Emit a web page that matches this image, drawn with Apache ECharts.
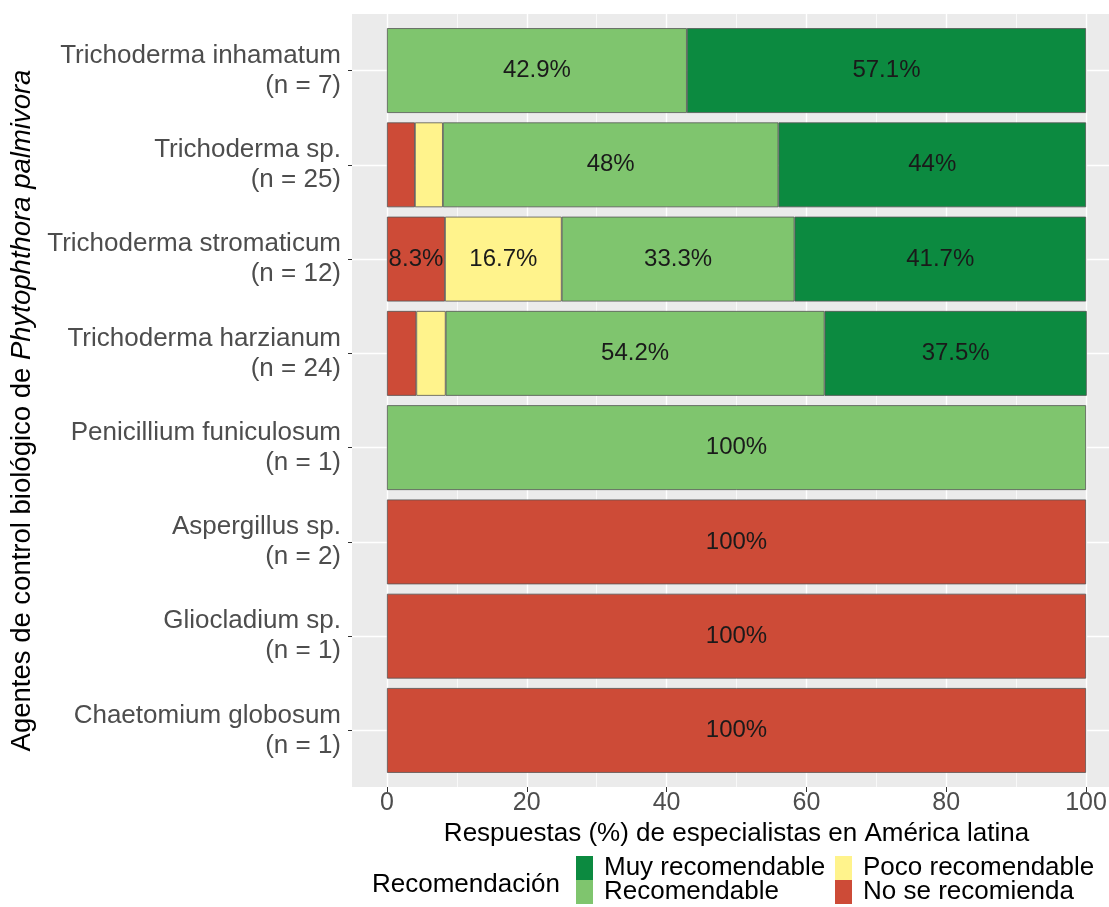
<!DOCTYPE html>
<html><head><meta charset="utf-8">
<script src="https://cdn.jsdelivr.net/npm/echarts@6/dist/echarts.min.js"></script>
<style>html,body{margin:0;padding:0;background:#fff;overflow:hidden}#c{width:1125px;height:907px}</style>
</head><body><div id="c"></div>
<script>
// categories listed bottom -> top
const categories = [
  'Chaetomium globosum\n(n = 1)',
  'Gliocladium sp.\n(n = 1)',
  'Aspergillus sp.\n(n = 2)',
  'Penicillium funiculosum\n(n = 1)',
  'Trichoderma harzianum\n(n = 24)',
  'Trichoderma stromaticum\n(n = 12)',
  'Trichoderma sp.\n(n = 25)',
  'Trichoderma inhamatum\n(n = 7)'
];
const noRecomienda     = [100, 100, 100, 0,   4.2, 8.3,  4,  0];
const pocoRecomendable = [0,   0,   0,   0,   4.2, 16.7, 4,  0];
const recomendable     = [0,   0,   0,   100, 54.2, 33.3, 48, 42.9];
const muyRecomendable  = [0,   0,   0,   0,   37.5, 41.7, 44, 57.1];
const xTicks = [0, 20, 40, 60, 80, 100];
const xMinor = [10, 30, 50, 70, 90];
const catPositions = [0, 1, 2, 3, 4, 5, 6, 7];

const FONT = '"Liberation Sans", Arial, sans-serif';
const PANEL = {left: 352, top: 14, width: 769, height: 773};
const band = PANEL.height / 8.2;

const chart = echarts.init(document.getElementById('c'), null, {renderer: 'canvas'});

function mkSeries(name, data, color) {
  return {
    name: name, type: 'bar', stack: 'total',
    xAxisIndex: 2, yAxisIndex: 1,
    barWidth: '90%',
    data: data.map(v => v === 0 ? null : v),
    itemStyle: {color: color, borderColor: '#555555', borderWidth: 0.8},
    label: {
      show: true, position: 'inside',
      formatter: p => (p.value >= 5 ? p.value + '%' : ''),
      fontFamily: FONT, fontSize: 24, color: '#1a1a1a'
    },
    emphasis: {disabled: true},
    silent: true
  };
}

const legendCommon = {
  top: 855, height: 70, orient: 'vertical', itemGap: -2, itemWidth: 17, itemHeight: 24,
  padding: 0, selectedMode: false, icon: 'rect',
  itemStyle: {borderWidth: 0},
  textStyle: {fontFamily: FONT, fontSize: 26, color: '#000000', lineHeight: 24, padding: [0, 0, 0, 6]}
};

const option = {
  backgroundColor: '#ffffff',
  animation: false,
  textStyle: {fontFamily: FONT},
  grid: [
    {left: PANEL.left, top: PANEL.top, width: PANEL.width, height: PANEL.height,
     show: true, backgroundColor: '#ebebeb', borderWidth: 0, containLabel: false},
    {left: PANEL.left, top: PANEL.top + 0.1 * band, width: PANEL.width, height: 8 * band,
     show: false, containLabel: false}
  ],
  xAxis: [
    {
      type: 'value', gridIndex: 0, min: -5, max: 105, position: 'bottom',
      axisLine: {show: false, onZero: false},
      axisTick: {show: true, customValues: xTicks, length: 5, lineStyle: {color: '#333333', width: 1}},
      axisLabel: {customValues: xTicks, fontFamily: FONT, fontSize: 25, color: '#4d4d4d', margin: 4},
      splitLine: {show: true, lineStyle: {color: '#ffffff', width: 1.4}},
      name: 'Respuestas (%) de especialistas en América latina',
      nameLocation: 'middle', nameGap: 27,
      nameTextStyle: {fontFamily: FONT, fontSize: 26, color: '#000000'}
    },
    {
      type: 'value', gridIndex: 0, min: -5, max: 105, position: 'top',
      axisLine: {show: false, onZero: false},
      axisTick: {show: false, customValues: xMinor},
      axisLabel: {show: false, customValues: xMinor},
      splitLine: {show: true, lineStyle: {color: '#ffffff', width: 0.7}}
    },
    {type: 'value', gridIndex: 1, min: -5, max: 105, show: false, axisLine: {onZero: false}}
  ],
  yAxis: [
    {
      type: 'value', gridIndex: 0, min: -0.6, max: 7.6, position: 'left',
      axisLine: {show: false, onZero: false},
      axisTick: {show: true, customValues: catPositions, length: 4, lineStyle: {color: '#333333', width: 1}},
      axisLabel: {
        customValues: catPositions,
        formatter: v => categories[Math.round(v)],
        fontFamily: FONT, fontSize: 26, color: '#4d4d4d', lineHeight: 30,
        align: 'right', margin: 11, padding: [5, 0, 0, 0]
      },
      splitLine: {show: true, lineStyle: {color: '#ffffff', width: 1.4}},
      name: 'Agentes de control biológico de {i|Phytophthora palmivora}',
      nameLocation: 'middle', nameRotate: 90, nameGap: 315,
      nameTextStyle: {fontFamily: FONT, fontSize: 27.5, color: '#000000', padding: [0, 20, 0, 0],
        rich: {i: {fontFamily: FONT, fontSize: 27.5, fontStyle: 'italic', color: '#000000'}}}
    },
    {type: 'category', gridIndex: 1, data: categories, show: false, axisLine: {onZero: false}}
  ],
  legend: [
    Object.assign({}, legendCommon, {left: 576, data: ['Muy recomendable', 'Recomendable']}),
    Object.assign({}, legendCommon, {left: 835, data: ['Poco recomendable', 'No se recomienda']})
  ],
  graphic: [
    {type: 'text', left: 372, top: 872,
     style: {text: 'Recomendación', fontFamily: FONT, fontSize: 26, fill: '#000000'}}
  ],
  series: [
    mkSeries('No se recomienda', noRecomienda, '#cd4b37'),
    mkSeries('Poco recomendable', pocoRecomendable, '#fff38c'),
    mkSeries('Recomendable', recomendable, '#7fc56e'),
    mkSeries('Muy recomendable', muyRecomendable, '#0c8a40')
  ]
};
chart.setOption(option);
</script>
</body></html>
